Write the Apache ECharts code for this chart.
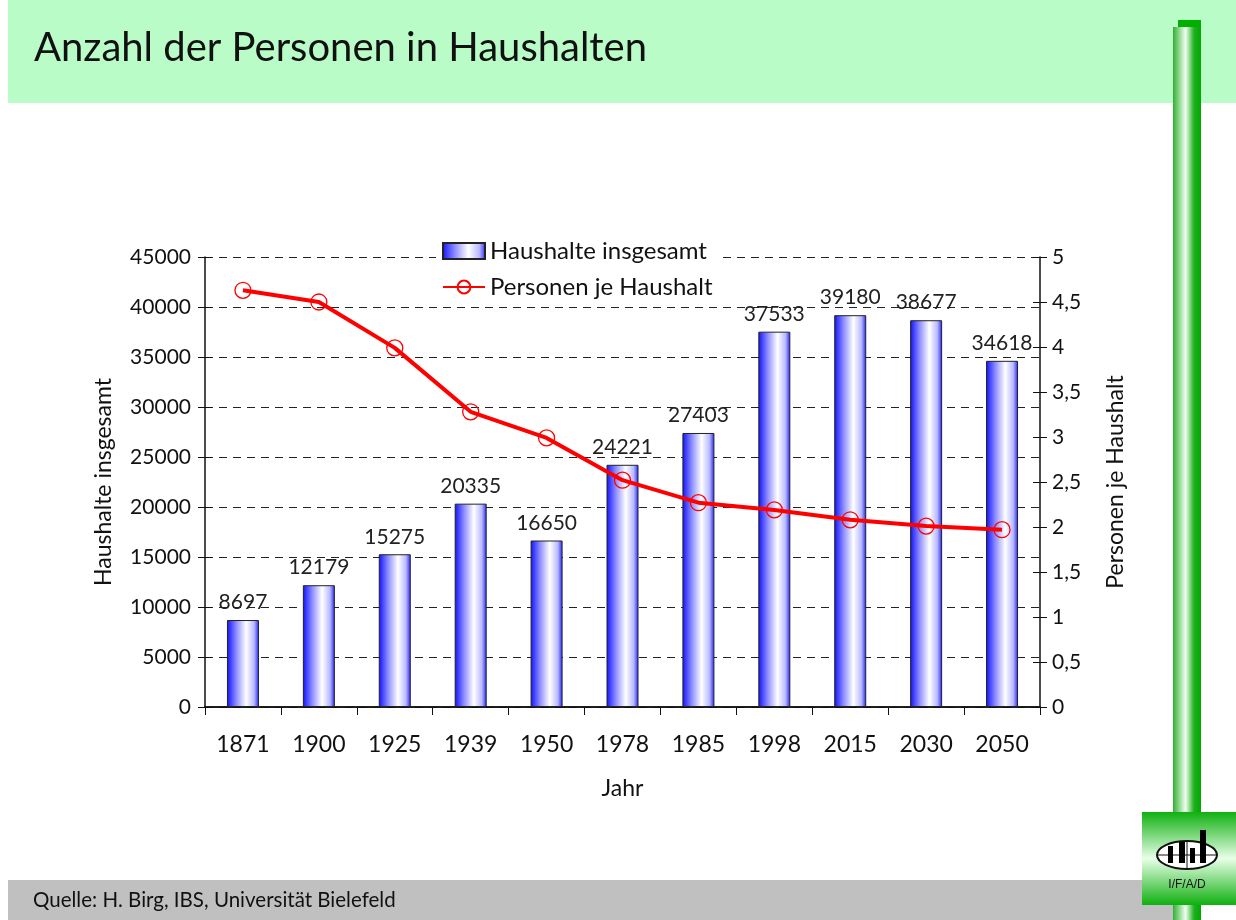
<!DOCTYPE html>
<html>
<head>
    <meta charset="utf-8" />
    <title>Anzahl der Personen in Haushalten</title>
    <style>
        html, body { margin: 0; padding: 0; background: #fff; }
        #chart { width: 1236px; height: 920px; }
    </style>
</head>
<body>
    <div id="chart"></div>
    <script src="https://cdn.jsdelivr.net/npm/echarts@6/dist/echarts.min.js"></script>
    <script>
        var years = ['1871', '1900', '1925', '1939', '1950', '1978', '1985', '1998', '2015', '2030', '2050'];
        var haushalte = [8697, 12179, 15275, 20335, 16650, 24221, 27403, 37533, 39180, 38677, 34618];
        var personen = [4.63, 4.5, 3.99, 3.28, 2.99, 2.52, 2.27, 2.19, 2.08, 2.01, 1.97];

        var font = 'Lato';
        var barFill = new echarts.graphic.LinearGradient(0, 0, 1, 0, [
            { offset: 0, color: '#1010ff' },
            { offset: 0.3, color: '#9090ff' },
            { offset: 0.6, color: '#ffffff' },
            { offset: 0.85, color: '#b8b8ff' },
            { offset: 1, color: '#2020ff' }
        ]);

        // helper axes that only draw inward ticks, so ticks cross the axis line
        function crossAxis(pos, max, step) {
            return {
                type: 'value', min: 0, max: max, interval: step, position: pos,
                axisLine: { show: false },
                axisTick: { show: true, inside: true, length: 7, lineStyle: { color: '#111' } },
                axisLabel: { show: false },
                splitLine: { show: false }
            };
        }

        var chart = echarts.init(document.getElementById('chart'));
        chart.setOption({
            backgroundColor: '#fff',
            textStyle: { fontFamily: font, color: '#111' },
            animation: false,
            graphic: [
                { type: 'rect', shape: { x: 8, y: 0, width: 1228, height: 103 }, style: { fill: '#b9fcc8' }, z: -10 },
                { type: 'text', x: 34, y: 28, style: { text: 'Anzahl der Personen in Haushalten', fontFamily: font, fontSize: 40, fill: '#111' } },
                { type: 'rect', shape: { x: 8, y: 880, width: 1165, height: 40 }, style: { fill: '#c0c0c0' }, z: -10 },
                { type: 'text', x: 33, y: 890, style: { text: 'Quelle: H. Birg, IBS, Universität Bielefeld', fontFamily: font, fontSize: 20.5, fill: '#111' } },
                { type: 'rect', shape: { x: 1178, y: 20, width: 23, height: 8 }, style: { fill: '#00b000' } },
                {
                    type: 'rect', shape: { x: 1173, y: 27, width: 28, height: 893 },
                    style: { fill: new echarts.graphic.LinearGradient(0, 0, 1, 0, [
                        { offset: 0, color: '#30b030' }, { offset: 0.45, color: '#f0fff0' },
                        { offset: 0.75, color: '#20b020' }, { offset: 1, color: '#00a800' }]) }
                },
                {
                    type: 'rect', shape: { x: 1142, y: 812, width: 94, height: 93 },
                    style: { fill: new echarts.graphic.LinearGradient(0, 0, 0, 1, [
                        { offset: 0, color: '#10b010' }, { offset: 0.5, color: '#e8ffe8' },
                        { offset: 1, color: '#10b010' }]) }
                },
                { type: 'ellipse', shape: { cx: 1187, cy: 855, rx: 30, ry: 14 }, style: { fill: '#fff', stroke: '#111', lineWidth: 2 } },
                { type: 'line', shape: { x1: 1187, y1: 841, x2: 1187, y2: 869 }, style: { stroke: '#111', lineWidth: 1 } },
                { type: 'line', shape: { x1: 1157, y1: 855, x2: 1217, y2: 855 }, style: { stroke: '#111', lineWidth: 1 } },
                { type: 'rect', shape: { x: 1168, y: 846, width: 5, height: 17 }, style: { fill: '#000' } },
                { type: 'rect', shape: { x: 1179, y: 842, width: 6, height: 21 }, style: { fill: '#000' } },
                { type: 'rect', shape: { x: 1190, y: 848, width: 5, height: 15 }, style: { fill: '#000' } },
                { type: 'rect', shape: { x: 1200, y: 830, width: 6, height: 33 }, style: { fill: '#000' } },
                { type: 'text', x: 1187, y: 885, style: { text: 'I/F/A/D', fontFamily: 'Liberation Sans', fontSize: 12, fill: '#111', align: 'center', verticalAlign: 'middle' } }
            ],
            legend: {
                orient: 'vertical',
                left: 436,
                top: 236,
                backgroundColor: '#fff',
                padding: [3, 10, 3, 6],
                itemGap: 12,
                itemWidth: 42,
                itemHeight: 16,
                textStyle: { fontFamily: font, fontSize: 24, color: '#111' },
                data: [
                    { name: 'Haushalte insgesamt', icon: 'rect' },
                    { name: 'Personen je Haushalt' }
                ]
            },
            grid: { left: 205, right: 196, top: 257, bottom: 213 },
            xAxis: [{
                type: 'category',
                data: years,
                name: 'Jahr',
                nameLocation: 'middle',
                nameGap: 70,
                nameTextStyle: { fontSize: 23, color: '#111' },
                axisLine: { lineStyle: { color: '#111', width: 1.5 } },
                axisTick: { show: true, length: 8, lineStyle: { color: '#111' } },
                axisLabel: { fontSize: 23, color: '#111', margin: 26 }
            }, {
                type: 'category',
                data: years,
                position: 'top',
                axisLine: { lineStyle: { color: '#111', width: 1.5 } },
                axisTick: { show: false },
                axisLabel: { show: false }
            }],
            yAxis: [{
                type: 'value',
                min: 0,
                max: 45000,
                interval: 5000,
                name: 'Haushalte insgesamt',
                nameLocation: 'middle',
                nameGap: 90,
                nameTextStyle: { fontSize: 23, color: '#111' },
                axisLine: { show: true, lineStyle: { color: '#111', width: 1.5 } },
                axisTick: { show: true, length: 7, lineStyle: { color: '#111' } },
                axisLabel: { fontSize: 21, color: '#111', margin: 14, formatter: function (v) { return String(v); } },
                splitLine: { lineStyle: { color: '#222', type: [8, 6], width: 1 } }
            }, {
                type: 'value',
                min: 0,
                max: 5,
                interval: 0.5,
                position: 'right',
                name: 'Personen je Haushalt',
                nameLocation: 'middle',
                nameGap: 64,
                nameRotate: 90,
                nameTextStyle: { fontSize: 23, color: '#111' },
                axisLine: { show: true, lineStyle: { color: '#111', width: 1.5 } },
                axisTick: { show: true, length: 7, lineStyle: { color: '#111' } },
                axisLabel: {
                    fontSize: 21, color: '#111', margin: 12,
                    formatter: function (v) { return String(v).replace('.', ','); }
                },
                splitLine: { show: false }
            }, crossAxis('left', 45000, 5000), crossAxis('right', 5, 0.5)],
            series: [{
                name: 'Haushalte insgesamt',
                type: 'bar',
                barWidth: 32,
                data: haushalte,
                itemStyle: { color: barFill, borderColor: '#222', borderWidth: 1 },
                label: { show: true, position: 'top', distance: 7, fontSize: 21, color: '#222', fontFamily: font }
            }, {
                name: 'Personen je Haushalt',
                type: 'line',
                yAxisIndex: 1,
                data: personen,
                symbol: 'circle',
                symbolSize: 16,
                lineStyle: { color: '#ff0000', width: 4 },
                itemStyle: { color: 'rgba(255,255,255,0)', borderColor: '#ff0000', borderWidth: 1.3 },
                z: 5
            }]
        });
    </script>
</body>
</html>
